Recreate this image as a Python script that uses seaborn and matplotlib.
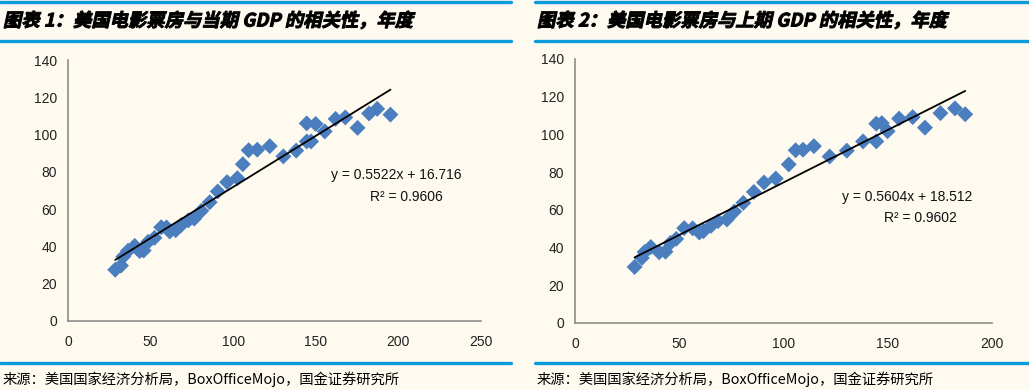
import numpy as np
import pandas as pd
import matplotlib
matplotlib.use('Agg')
import matplotlib.pyplot as plt
from matplotlib.lines import Line2D
from matplotlib.patheffects import AbstractPathEffect
from matplotlib.transforms import Affine2D
import seaborn as sns

# --- 数据：1980-2017 年度 ---
years = list(range(1980, 2018))
# 美国名义 GDP（千亿美元）
gdp = [28.57, 32.07, 33.43, 36.34, 40.37, 43.39, 45.80, 48.55, 52.36, 56.42,
       59.63, 61.58, 65.20, 68.59, 72.87, 76.40, 80.73, 85.78, 90.63, 96.31,
       102.52, 105.82, 109.36, 114.58, 122.14, 130.37, 138.15, 144.52, 147.13, 144.49,
       149.92, 155.43, 161.97, 167.85, 175.27, 182.25, 187.15, 195.19]
# 美国电影票房（亿美元）
box_office = [27.5, 29.7, 34.5, 37.7, 40.3, 37.5, 37.8, 42.5, 44.6, 50.3,
              50.2, 48.0, 48.7, 51.5, 54.0, 54.9, 59.1, 63.7, 69.5, 74.5,
              76.6, 84.1, 91.6, 91.9, 93.8, 88.3, 91.4, 96.3, 96.3, 106.0,
              105.7, 101.7, 108.4, 109.2, 103.6, 111.3, 113.8, 110.7]

titles = ['图表 1：美国电影票房与当期 GDP 的相关性，年度',
          '图表 2：美国电影票房与上期 GDP 的相关性，年度']
eq_text = [('y = 0.5522x + 16.716', 'R² = 0.9606'),
           ('y = 0.5604x + 18.512', 'R² = 0.9602')]
source = '来源：美国国家经济分析局，BoxOfficeMojo，国金证券研究所'

df_cur = pd.DataFrame({'gdp': gdp, 'box': box_office})
df_prev = pd.DataFrame({'gdp': gdp[:-1], 'box': box_office[1:]})


# 中文字体没有斜体，用 path effect 做倾斜 + 加粗
class Oblique(AbstractPathEffect):
    def __init__(self, slant=0.22, stroke=0.7):
        super().__init__()
        self.slant = slant
        self.stroke = stroke

    def draw_path(self, renderer, gc, tpath, affine, rgbFace=None):
        m = affine.get_matrix()
        ox, oy = m[0, 2], m[1, 2]
        sk = Affine2D().translate(-ox, -oy).skew(np.arctan(self.slant), 0).translate(ox, oy)
        gc0 = renderer.new_gc()
        gc0.copy_properties(gc)
        gc0.set_linewidth(self.stroke)
        gc0.set_foreground('black')
        renderer.draw_path(gc0, tpath, affine + sk, rgbFace)
        gc0.restore()


# --- 样式 ---
sns.set_style('white')
cjk = ['Noto Sans CJK SC', 'DejaVu Sans']
plt.rcParams['font.family'] = ['Liberation Sans', 'DejaVu Sans']
bg = '#FEFAF0'
blue_line = '#0A9BDB'
pt_color = '#4A7EBF'
spine_c = '#8C8C8C'

W, H = 1029, 390
fig = plt.figure(figsize=(W / 100, H / 100), dpi=100, facecolor=bg)


def px(x0, y0, x1, y1):
    # 像素框 -> figure 坐标
    return [x0 / W, 1 - y1 / H, (x1 - x0) / W, (y1 - y0) / H]


panels = [
    dict(box=px(68, 60, 481, 321), data=df_cur, xmax=250, xticks=[0, 50, 100, 150, 200, 250],
         lx=(0, 511), tx=3, eq=[(396, 175), (406, 197)]),
    dict(box=px(575, 59, 992, 323), data=df_prev, xmax=200, xticks=[0, 50, 100, 150, 200],
         lx=(535, 1029), tx=537, eq=[(907, 197), (920, 218)]),
]

for i, p in enumerate(panels):
    ax = fig.add_axes(p['box'])
    ax.set_facecolor(bg)
    sns.scatterplot(data=p['data'], x='gdp', y='box', marker='D', s=66,
                    color=pt_color, edgecolor='none', ax=ax, zorder=2)
    sns.regplot(data=p['data'], x='gdp', y='box', scatter=False, ci=None,
                line_kws=dict(color='black', lw=1.3), ax=ax)
    ax.set_xlim(0, p['xmax'])
    ax.set_ylim(0, 140)
    ax.set_xticks(p['xticks'])
    ax.set_yticks(range(0, 141, 20))
    ax.set_xlabel('')
    ax.set_ylabel('')
    for s in ['top', 'right']:
        ax.spines[s].set_visible(False)
    for s in ['left', 'bottom']:
        ax.spines[s].set_color(spine_c)
        ax.spines[s].set_linewidth(1.2)
    ax.tick_params(axis='both', direction='out', length=4, width=1.2, color=spine_c,
                   labelsize=10, labelcolor='#222222', pad=4)
    ax.tick_params(axis='x', pad=6)

    # 回归方程
    for (tx_, ty_), t in zip(p['eq'], eq_text[i]):
        fig.text(tx_ / W, 1 - ty_ / H, t, ha='center', va='center', fontsize=10, color='#111111')

    # 标题、蓝线、来源
    x0, x1 = p['lx']
    for yy in (2, 41, 363):
        fig.add_artist(Line2D([x0 / W, x1 / W], [1 - yy / H, 1 - yy / H],
                              color=blue_line, lw=2.4, transform=fig.transFigure))
    fig.text(p['tx'] / W, 1 - 21 / H, titles[i], ha='left', va='center', fontsize=13.2,
             fontweight='bold', family=cjk, color='black', path_effects=[Oblique()])
    fig.text(p['tx'] / W, 1 - 379 / H, source, ha='left', va='center', fontsize=10.3,
             family=cjk, color='black')

plt.savefig('out.png', dpi=100, facecolor=bg)
